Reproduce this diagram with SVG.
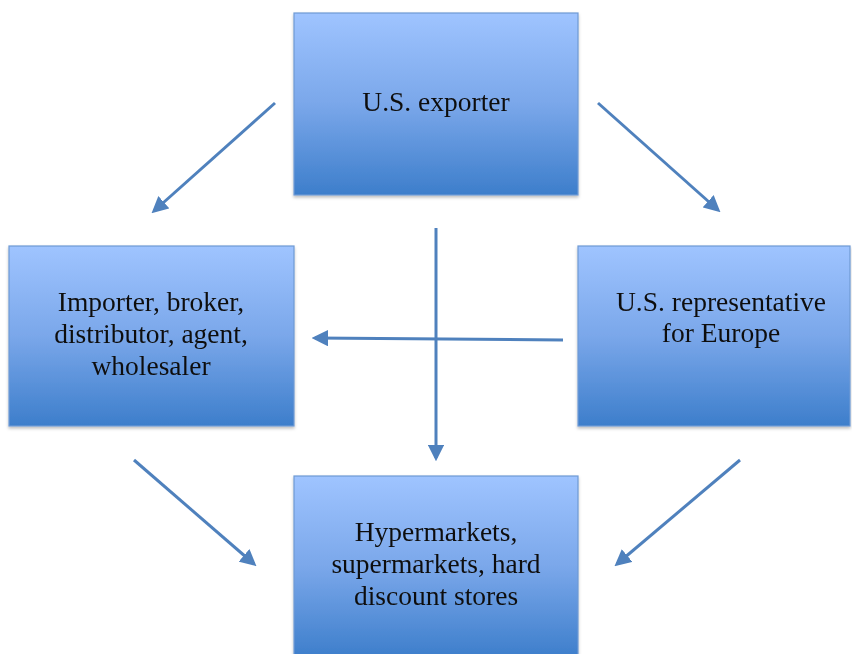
<svg xmlns="http://www.w3.org/2000/svg" width="852" height="654" viewBox="0 0 852 654">
<style>
.box{fill:url(#g);stroke:#6f9ad4;stroke-width:1.2}
.lbl{font-family:"Liberation Serif","Times New Roman",serif;font-size:27.5px;fill:#111;text-anchor:middle}
.con{stroke:#4f81bd;stroke-width:3;fill:none;marker-end:url(#ah)}
</style>
<defs>
<linearGradient id="g" x1="0" y1="0" x2="0" y2="1">
<stop offset="0" stop-color="#9fc4ff"/>
<stop offset="0.5" stop-color="#7aa7ea"/>
<stop offset="1" stop-color="#3d7ecb"/>
</linearGradient>
<marker id="ah" viewBox="0 0 10 10" refX="8" refY="5" markerWidth="5.5" markerHeight="5.5" orient="auto" markerUnits="strokeWidth">
<path d="M0,0 L10,5 L0,10 z" fill="#4f81bd"/>
</marker>
<filter id="sh" x="-5%" y="-5%" width="110%" height="110%">
<feDropShadow dx="0" dy="2" stdDeviation="1.5" flood-color="#000" flood-opacity="0.25"/>
</filter>
</defs>
<g id="n-exporter" filter="url(#sh)"><rect class="box" x="294" y="13" width="284" height="182"/><text class="lbl" x="436" y="111">U.S. exporter</text></g>
<g id="n-importer" filter="url(#sh)"><rect class="box" x="9" y="246" width="285" height="180"/><text class="lbl" x="151" y="311">Importer, broker,</text><text class="lbl" x="151" y="343">distributor, agent,</text><text class="lbl" x="151" y="375">wholesaler</text></g>
<g id="n-rep" filter="url(#sh)"><rect class="box" x="578" y="246" width="272" height="180"/><text class="lbl" x="721" y="311">U.S. representative</text><text class="lbl" x="721" y="342">for Europe</text></g>
<g id="n-retail" filter="url(#sh)"><rect class="box" x="294" y="476" width="284" height="182"/><text class="lbl" x="436" y="541">Hypermarkets,</text><text class="lbl" x="436" y="573">supermarkets, hard</text><text class="lbl" x="436" y="605">discount stores</text></g>
<g id="connectors">
<line class="con" x1="275" y1="103" x2="154" y2="211"/>
<line class="con" x1="598" y1="103" x2="718" y2="210"/>
<line class="con" x1="436" y1="228" x2="436" y2="458"/>
<line class="con" x1="563" y1="340" x2="315" y2="338"/>
<line class="con" x1="134" y1="460" x2="254" y2="564"/>
<line class="con" x1="740" y1="460" x2="617" y2="564"/>
</g>
</svg>
